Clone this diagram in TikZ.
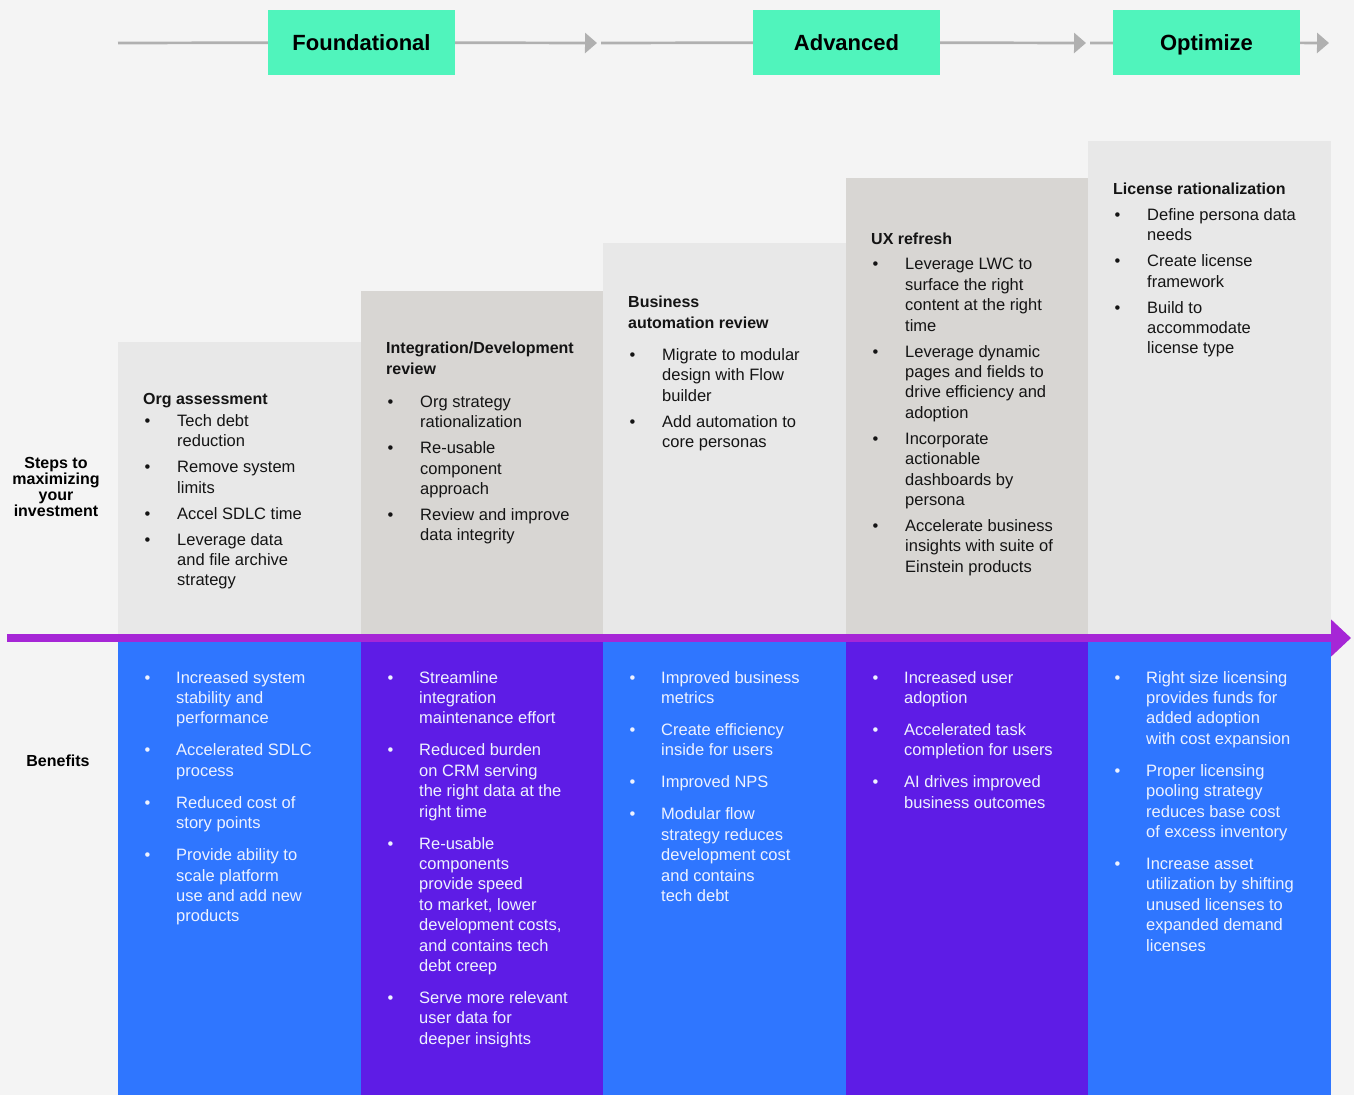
\documentclass[tikz,border=0pt]{standalone}
\usepackage{fontspec}
\setmainfont{Liberation Sans}
\usetikzlibrary{arrows.meta}

\definecolor{pagebg}{HTML}{F4F4F4}
\definecolor{stepA}{HTML}{E8E8E8}
\definecolor{stepB}{HTML}{D8D6D3}
\definecolor{gainA}{HTML}{2F76FF}
\definecolor{gainB}{HTML}{5E1CE6}
\definecolor{timeline}{HTML}{A626D6}
\definecolor{phasefill}{HTML}{50F4BC}
\definecolor{flowgray}{HTML}{B0B0B0}
\definecolor{ink}{HTML}{141414}
\definecolor{paleink}{HTML}{EEF2FF}

% bullets and hanging indents for the column lists
\newcommand{\sbul}{\makebox[34pt][l]{\hspace{1.5pt}\textbullet}}
\newcommand{\sind}{\makebox[34pt]{}}
\newcommand{\gbul}{\makebox[33pt][l]{\hspace{1.5pt}\textbullet}}
\newcommand{\gind}{\makebox[33pt]{}}
\newcommand{\stephd}[1]{{\fontsize{16}{20.4}\selectfont\bfseries #1}}

\tikzset{
  phasebox/.style={fill=phasefill, minimum width=187pt, minimum height=65pt, inner sep=0pt,
    text height=16pt, text depth=0pt, text=black, font=\fontsize{22}{26}\selectfont\bfseries},
  flowline/.style={draw=flowgray, line width=2.7pt},
  flowtip/.style={flowline, -{Triangle[length=12pt,width=20pt]}},
  timelinearrow/.style={draw=timeline, line width=7.7pt, -{Triangle[length=20pt,width=36pt]}},
  steptext/.style={anchor=north west, inner sep=0pt, align=left, text=ink,
    font=\fontsize{16.5}{20.4}\selectfont},
  gaintext/.style={steptext, text=paleink},
  sidelabel/.style={align=center, inner sep=0pt, text=black, font=\fontsize{16}{16}\selectfont\bfseries}
}

\begin{document}
\begin{tikzpicture}[x=1pt, y=-1pt]
    \useasboundingbox (0,0) rectangle (1354,1095);
    \fill[pagebg] (0,0) rectangle (1354,1095);

    % Phase banner
    \node[phasebox] (found) at (361.5,42.5) {Foundational};
    \node[phasebox] (adv) at (846.5,42.5) {Advanced};
    \node[phasebox] (opt) at (1206.5,42.5) {Optimize};

    \coordinate (lead) at (118,43);
    \coordinate (found-end) at (597,43);
    \coordinate (adv-start) at (601,43);
    \coordinate (adv-end) at (1086,43);
    \coordinate (opt-start) at (1090,43);
    \coordinate (opt-end) at (1329,43);

    \draw[flowline] (lead) -- (found);
    \draw[flowtip] (found) -- (found-end);
    \draw[flowline] (adv-start) -- (adv);
    \draw[flowtip] (adv) -- (adv-end);
    \draw[flowline] (opt-start) -- (opt);
    \draw[flowtip] (opt) -- (opt-end);

    % Column backgrounds: steps above the timeline, benefits below
    \foreach \xl/\xr/\yt/\upper/\lower in {118/361/342/stepA/gainA, 361/603/291/stepB/gainB,
        603/846/243/stepA/gainA, 846/1088/178/stepB/gainB, 1088/1331/141/stepA/gainA} {
        \fill[fill=\upper] (\xl,\yt) rectangle (\xr,638);
        \fill[fill=\lower] (\xl,638) rectangle (\xr,1095);
    }

    % Timeline
    \coordinate (tl-start) at (7,638);
    \coordinate (tl-end) at (1351,638);
    \draw[timelinearrow] (tl-start) -- (tl-end);

    % Row labels
    \node[sidelabel] (steps) at (56,487) {Steps to\\maximizing\\your\\investment};
    \node[sidelabel] (benefits) at (58,761) {Benefits};

    % Steps
    \node[steptext] (step1) at (143,393) {\stephd{Org assessment}\\[1.6pt]
        \sbul Tech debt\\ \sind reduction\\[5.6pt]
        \sbul Remove system\\ \sind limits\\[5.6pt]
        \sbul Accel SDLC time\\[5.6pt]
        \sbul Leverage data\\ \sind and file archive\\ \sind strategy};

    \node[steptext] (step2) at (386,342) {\stephd{Integration/Development}\\ \stephd{review}\\[12.6pt]
        \sbul Org strategy\\ \sind rationalization\\[5.6pt]
        \sbul Re-usable\\ \sind component\\ \sind approach\\[5.6pt]
        \sbul Review and improve\\ \sind data integrity};

    \node[steptext] (step3) at (628,296) {\stephd{Business}\\ \stephd{automation review}\\[11.6pt]
        \sbul Migrate to modular\\ \sind design with Flow\\ \sind builder\\[5.6pt]
        \sbul Add automation to\\ \sind core personas};

    \node[steptext] (step4) at (871,233) {\stephd{UX refresh}\\[4.6pt]
        \sbul Leverage LWC to\\ \sind surface the right\\ \sind content at the right\\ \sind time\\[5.6pt]
        \sbul Leverage dynamic\\ \sind pages and fields to\\ \sind drive efficiency and\\ \sind adoption\\[5.6pt]
        \sbul Incorporate\\ \sind actionable\\ \sind dashboards by\\ \sind persona\\[5.6pt]
        \sbul Accelerate business\\ \sind insights with suite of\\ \sind Einstein products};

    \node[steptext] (step5) at (1113,182.5) {\stephd{License rationalization}\\[5.6pt]
        \sbul Define persona data\\ \sind needs\\[5.6pt]
        \sbul Create license\\ \sind framework\\[5.6pt]
        \sbul Build to\\ \sind accommodate\\ \sind license type};

    % Benefits
    \node[gaintext] (gain1) at (143,671) {\gbul Increased system\\ \gind stability and\\ \gind performance\\[11.6pt]
        \gbul Accelerated SDLC\\ \gind process\\[11.6pt]
        \gbul Reduced cost of\\ \gind story points\\[11.6pt]
        \gbul Provide ability to\\ \gind scale platform\\ \gind use and add new\\ \gind products};

    \node[gaintext] (gain2) at (386,671) {\gbul Streamline\\ \gind integration\\ \gind maintenance effort\\[11.6pt]
        \gbul Reduced burden\\ \gind on CRM serving\\ \gind the right data at the\\ \gind right time\\[11.6pt]
        \gbul Re-usable\\ \gind components\\ \gind provide speed\\ \gind to market, lower\\ \gind development costs,\\ \gind and contains tech\\ \gind debt creep\\[11.6pt]
        \gbul Serve more relevant\\ \gind user data for\\ \gind deeper insights};

    \node[gaintext] (gain3) at (628,671) {\gbul Improved business\\ \gind metrics\\[11.6pt]
        \gbul Create efficiency\\ \gind inside for users\\[11.6pt]
        \gbul Improved NPS\\[11.6pt]
        \gbul Modular flow\\ \gind strategy reduces\\ \gind development cost\\ \gind and contains\\ \gind tech debt};

    \node[gaintext] (gain4) at (871,671) {\gbul Increased user\\ \gind adoption\\[11.6pt]
        \gbul Accelerated task\\ \gind completion for users\\[11.6pt]
        \gbul AI drives improved\\ \gind business outcomes};

    \node[gaintext] (gain5) at (1113,671) {\gbul Right size licensing\\ \gind provides funds for\\ \gind added adoption\\ \gind with cost expansion\\[11.6pt]
        \gbul Proper licensing\\ \gind pooling strategy\\ \gind reduces base cost\\ \gind of excess inventory\\[11.6pt]
        \gbul Increase asset\\ \gind utilization by shifting\\ \gind unused licenses to\\ \gind expanded demand\\ \gind licenses};
\end{tikzpicture}
\end{document}
